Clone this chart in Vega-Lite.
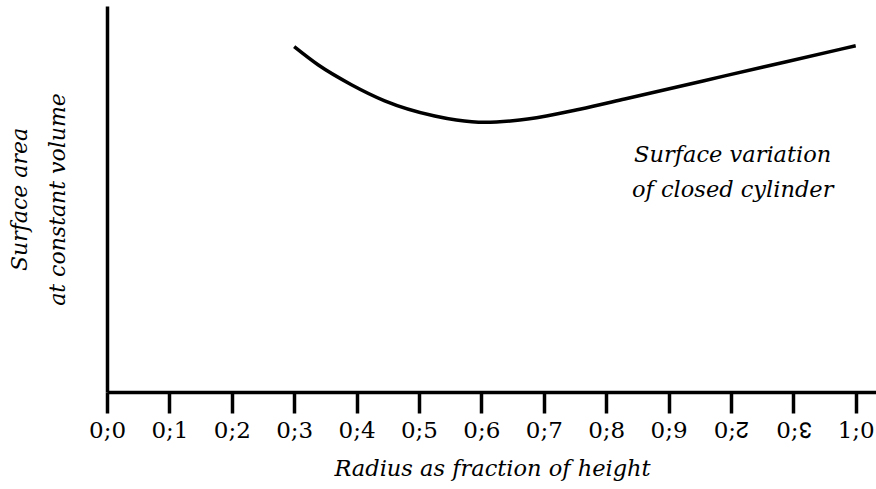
{
  "$schema": "https://vega.github.io/schema/vega-lite/v6.json",
  "width": 769,
  "height": 386,
  "autosize": "none",
  "padding": {"left": 107, "top": 6, "right": 0, "bottom": 97},
  "background": "white",
  "config": {
    "view": {"stroke": null},
    "font": "DejaVu Serif"
  },
  "datasets": {
    "curve": [
      {"r": 0.25, "s": 3.453},
      {"r": 0.2818, "s": 3.272},
      {"r": 0.3264, "s": 3.073},
      {"r": 0.3709, "s": 2.912},
      {"r": 0.4377, "s": 2.76},
      {"r": 0.4667, "s": 2.72},
      {"r": 0.5045, "s": 2.697},
      {"r": 0.5419, "s": 2.712},
      {"r": 0.5869, "s": 2.76},
      {"r": 0.6314, "s": 2.828},
      {"r": 0.6915, "s": 2.93},
      {"r": 0.7583, "s": 3.045},
      {"r": 0.8251, "s": 3.161},
      {"r": 0.9074, "s": 3.303},
      {"r": 1.0, "s": 3.463}
    ],
    "note": [
      {"r": 0.8357, "s": 2.37, "label": "Surface variation\nof closed cylinder"}
    ]
  },
  "layer": [
    {
      "data": {"name": "curve"},
      "mark": {"type": "line", "color": "black", "strokeWidth": 3.5, "interpolate": "monotone"},
      "encoding": {
        "x": {
          "field": "r", "type": "quantitative",
          "scale": {"domain": [0, 1.0271], "nice": false, "zero": false},
          "axis": {
            "values": [0, 0.083333, 0.166667, 0.25, 0.333333, 0.416667, 0.5, 0.583333, 0.666667, 0.75, 0.833333, 0.916667, 1],
            "labelExpr": "['0;0','0;1','0;2','0;3','0;4','0;5','0;6','0;7','0;8','0;9','0;\u218A','0;\u218B','1;0'][round(datum.value*12)]",
            "grid": false,
            "domainColor": "black", "domainWidth": 3.5,
            "tickColor": "black", "tickWidth": 3.5, "tickSize": 21,
            "labelFont": "DejaVu Serif", "labelFontSize": 23, "labelColor": "black", "labelPadding": 6,
            "labelFlush": false, "labelOverlap": false,
            "title": "Radius as fraction of height",
            "titleFont": "DejaVu Serif", "titleFontStyle": "italic", "titleFontWeight": "normal",
            "titleFontSize": 22.5, "titleColor": "black", "titlePadding": 15,
            "titleX": 385
          }
        },
        "y": {
          "field": "s", "type": "quantitative",
          "scale": {"domain": [0, 3.86], "nice": false, "zero": false},
          "axis": {
            "ticks": false, "labels": false, "grid": false,
            "domainColor": "black", "domainWidth": 3.5,
            "title": ["Surface area", "at constant volume"],
            "titleFont": "DejaVu Serif", "titleFontStyle": "italic", "titleFontWeight": "normal",
            "titleFontSize": 22, "titleColor": "black", "titlePadding": 38, "titleLineHeight": 38
          }
        }
      }
    },
    {
      "data": {"name": "note"},
      "mark": {"type": "text", "font": "DejaVu Serif", "fontStyle": "italic", "fontSize": 22.5, "color": "black", "align": "center", "baseline": "middle", "lineBreak": "\n", "lineHeight": 35},
      "encoding": {
        "x": {"field": "r", "type": "quantitative"},
        "y": {"field": "s", "type": "quantitative"},
        "text": {"field": "label"}
      }
    }
  ]
}
